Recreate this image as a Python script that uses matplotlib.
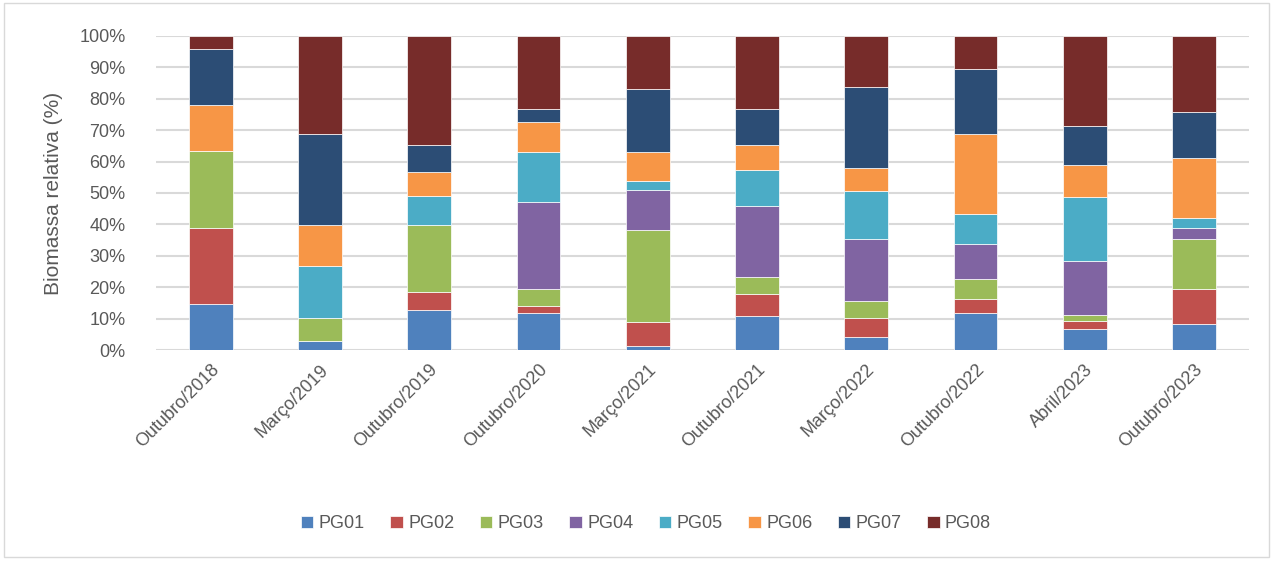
import matplotlib.pyplot as plt
import numpy as np
from matplotlib.patches import Rectangle

periodos = ['Outubro/2018', 'Março/2019', 'Outubro/2019', 'Outubro/2020', 'Março/2021',
            'Outubro/2021', 'Março/2022', 'Outubro/2022', 'Abril/2023', 'Outubro/2023']

pg01 = [14.6, 3.0, 12.7, 11.7, 1.4, 11.0, 4.2, 11.7, 6.6, 8.2]
pg02 = [24.3, 0.0, 5.9, 2.2, 7.6, 6.7, 6.1, 4.6, 2.7, 11.3]
pg03 = [24.4, 7.1, 21.3, 5.6, 29.2, 5.5, 5.2, 6.2, 2.0, 16.0]
pg04 = [0.0, 0.0, 0.0, 27.5, 12.8, 22.5, 19.9, 11.4, 17.1, 3.3]
pg05 = [0.0, 16.6, 9.1, 16.2, 2.9, 11.7, 15.3, 9.5, 20.2, 3.3]
pg06 = [14.7, 13.0, 7.7, 9.5, 9.0, 8.0, 7.4, 25.5, 10.4, 19.1]
pg07 = [17.8, 29.1, 8.7, 4.1, 20.3, 11.4, 25.5, 20.7, 12.4, 14.5]
pg08 = [4.2, 31.2, 34.6, 23.2, 16.8, 23.2, 16.4, 10.4, 28.6, 24.3]

grupos = ['PG01', 'PG02', 'PG03', 'PG04', 'PG05', 'PG06', 'PG07', 'PG08']
series = [pg01, pg02, pg03, pg04, pg05, pg06, pg07, pg08]
cores = ['#4F81BD', '#C0504D', '#9BBB59', '#8064A2', '#4BACC6', '#F79646', '#2C4D75', '#772C2A']

plt.rcParams['font.family'] = ['Liberation Sans', 'DejaVu Sans']
txt = '#595959'

fig = plt.figure(figsize=(12.74, 5.61), dpi=100)
ax = fig.add_axes([0.1225, 0.376, 0.8575, 0.56])

x = np.arange(len(periodos))
base = np.zeros(len(periodos))
for nome, vals, cor in zip(grupos, series, cores):
    vals = np.array(vals)
    ax.bar(x, vals, width=0.4, bottom=base, color=cor, edgecolor='white',
           linewidth=0.5, label=nome, zorder=3)
    base += vals

ax.set_xlim(-0.5, len(periodos) - 0.5)
ax.set_ylim(0, 100)
ax.set_yticks(np.arange(0, 101, 10))
ax.set_yticklabels([f'{v}%' for v in range(0, 101, 10)], color=txt, fontsize=13)
ax.set_xticks(x)
ax.set_xticklabels(periodos, rotation=45, ha='right', rotation_mode='anchor',
                   color=txt, fontsize=13)
ax.tick_params(length=0, axis='both')
ax.tick_params(axis='y', pad=22)
ax.tick_params(axis='x', pad=8)
ax.grid(axis='y', color='#D9D9D9', linewidth=1.5, zorder=0)
for s in ax.spines.values():
    s.set_visible(False)

ax.set_ylabel('Biomassa relativa (%)', color=txt, fontsize=15, labelpad=12)

fig.legend(loc='center', bbox_to_anchor=(0.507, 0.066), ncol=8, frameon=False,
           fontsize=13, labelcolor=txt, handlelength=0.7, handleheight=0.7,
           handletextpad=0.3, columnspacing=1.4)

fig.patches.append(Rectangle((0.003, 0.008), 0.993, 0.987, transform=fig.transFigure,
                             fill=False, edgecolor='#D9D9D9', linewidth=1))

fig.savefig('out.png', dpi=100)
